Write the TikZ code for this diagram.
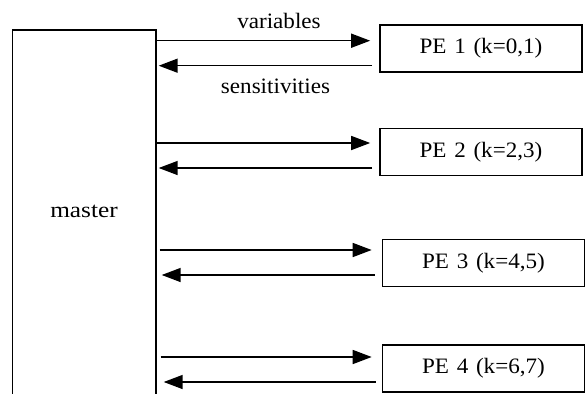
\documentclass[tikz,border=0pt]{standalone}
\usepackage{fontspec}
\usepackage{graphicx}
\setmainfont{Liberation Serif}
\usetikzlibrary{arrows.meta}
\newcommand{\wtxt}[1]{\scalebox{1.05}[1]{#1}}
\begin{document}
\begin{tikzpicture}[x=1pt,y=-1pt,
  pebox/.style={draw,line width=1.6pt,inner sep=0pt,minimum width=202pt,minimum height=47pt,font=\fontsize{22}{26}\selectfont},
  lbl/.style={inner sep=0pt,font=\fontsize{22}{26}\selectfont},
  arr/.style={line width=1.5pt,-{Triangle[length=19pt,width=14pt]}}]
\useasboundingbox[fill=white] (0,0) rectangle (587,394);
% master (open at the bottom)
\node[inner sep=0pt,minimum width=143pt,minimum height=364pt] (master) at (84,212) {};
\node[lbl] (mtext) at (84,211) {\scalebox{1.15}[1]{master}};
\draw[line width=1.6pt] (master.south west) -- (master.north west) -- (master.north east) -- (master.south east);
% PE boxes
\node[pebox] (pe1) at (481,48.5) {\wtxt{PE\,\,1\,\,(k=0,1)}};
\node[pebox] (pe2) at (481,152) {\wtxt{PE\,\,2\,\,(k=2,3)}};
\node[pebox] (pe3) at (483.5,263) {\wtxt{PE\,\,3\,\,(k=4,5)}};
\node[pebox] (pe4) at (483.5,368.5) {\wtxt{PE\,\,4\,\,(k=6,7)}};
% labels
\node[lbl,anchor=base] (var) at (279,28) {\wtxt{variables}};
\node[lbl,anchor=base] (sens) at (275.5,93) {\wtxt{sensitivities}};
% arrows
\draw[arr] ([xshift=1pt]master.east |- 0,40.7) -- ([xshift=-9pt]pe1.west |- 0,40.7);
\draw[arr] ([xshift=-7pt]pe1.west |- 0,65.7) -- ([xshift=3pt]master.east |- 0,65.7);
\draw[arr] (master.east |- 0,143) -- ([xshift=-9pt]pe2.west |- 0,143);
\draw[arr] ([xshift=-7pt]pe2.west |- 0,168) -- ([xshift=3pt]master.east |- 0,168);
\draw[arr] ([xshift=4pt]master.east |- 0,250) -- ([xshift=-10pt]pe3.west |- 0,250);
\draw[arr] ([xshift=-7pt]pe3.west |- 0,275) -- ([xshift=6pt]master.east |- 0,275);
\draw[arr] ([xshift=5pt]master.east |- 0,357) -- ([xshift=-10pt]pe4.west |- 0,357);
\draw[arr] ([xshift=-6pt]pe4.west |- 0,382) -- ([xshift=8pt]master.east |- 0,382);
\end{tikzpicture}
\end{document}
